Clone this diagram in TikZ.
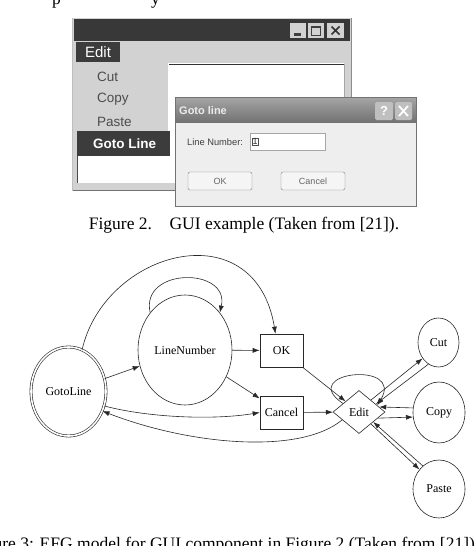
\documentclass[tikz,border=0pt]{standalone}
\usepackage{fontspec}
\setmainfont{Liberation Serif}
\setsansfont{Liberation Sans}
\usetikzlibrary{shapes.geometric,arrows.meta,positioning,calc}
\definecolor{TitleDark}{RGB}{56,56,56}
\definecolor{MenuGray}{RGB}{210,210,210}
\definecolor{MenuDark}{RGB}{60,60,60}
\definecolor{DlgBody}{RGB}{238,238,238}
\definecolor{EdgeInk}{RGB}{40,40,40}
\tikzset{
  cnode/.style={draw=EdgeInk,ellipse,line width=0.6pt,inner sep=0pt,
                font=\fontsize{12}{14}\selectfont},
  bbox/.style={draw=EdgeInk,rectangle,line width=0.6pt,inner sep=0pt,
               minimum width=43pt,minimum height=33pt,
               font=\fontsize{12}{14}\selectfont},
  dbox/.style={draw=EdgeInk,diamond,line width=0.6pt,inner sep=0pt,
               minimum width=52pt,minimum height=43pt,
               font=\fontsize{12}{14}\selectfont},
  arr/.style={-{Latex[length=7pt,width=5pt]},EdgeInk,line width=0.6pt},
  menutext/.style={anchor=west,inner sep=0pt,text=black!70,
                   font=\sffamily\fontsize{13.5}{15}\selectfont},
  btnbox/.style={draw=black!50,fill=white!96!black,rounded corners=2pt},
  btntext/.style={inner sep=0pt,text=black!60,font=\sffamily\fontsize{9}{10}\selectfont},
  captext/.style={inner sep=0pt,font=\fontsize{17.5}{20}\selectfont},
}
\begin{document}
\begin{tikzpicture}[x=1pt,y=-1pt]
  \useasboundingbox (0,0) rectangle (474,546);
  \fill[white] (0,0) rectangle (474,546);

  % cut-off line of text above
  \node[captext,anchor=base west] (topp) at (52,4.5) {p};
  \node[captext,anchor=base west] (topy) at (151,4.5) {y};

  % main window
  \fill[MenuGray] (72,18) rectangle (352,191);
  \fill[TitleDark] (74,19) rectangle (350,41);
  \fill[MenuGray] (290,23) rectangle (306,38);
  \fill[MenuGray] (308,23) rectangle (324,38);
  \fill[MenuGray] (327,23) rectangle (344,38);
  \fill[black!75] (294,32.5) rectangle (301,35.5);
  \draw[black!75,line width=0.8pt] (311.5,26.5) rectangle (320.5,35);
  \draw[black!75,line width=1.6pt] (312,27) -- (320,27);
  \draw[black!80,line width=1.6pt] (331.5,26.5) -- (339.5,34.5) (331.5,34.5) -- (339.5,26.5);
  \fill[MenuDark] (76,42) rectangle (120,62);
  \node[inner sep=0pt,text=white,font=\sffamily\fontsize{15}{17}\selectfont] (medit) at (98,52.5) {Edit};
  \fill[white] (77,63) rectangle (344,183);
  \draw[black!80,line width=1.2pt] (168,64.5) -- (344,64.5);
  \draw[black!35] (344,64) -- (344,183);
  \draw[black!70,line width=1pt] (77.5,156) -- (77.5,183);
  \draw[black!55,line width=1.2pt] (72,190.4) -- (352,190.4);
  \draw[black!45,line width=1pt] (351.5,18) -- (351.5,191);
  \draw[black!25] (72.5,18) -- (72.5,191);
  \fill[MenuGray] (77,63) rectangle (168,131);
  \draw[white] (168,64) -- (168,131);
  \node[menutext] (mcut) at (97,76.5) {Cut};
  \node[menutext] (mcopy) at (97,99) {Copy};
  \node[menutext] (mpaste) at (97,122) {Paste};
  \fill[MenuDark] (77,131) rectangle (170,156);
  \node[menutext,text=white,font=\sffamily\bfseries\fontsize{13.5}{15}\selectfont] (mgoto) at (93,143.5) {Goto Line};

  % dialog
  \fill[DlgBody] (175,97) rectangle (416,206);
  \shade[top color=black!35,bottom color=black!55] (175,97) rectangle (416,122);
  \draw[black!55,line width=1pt] (175,97) rectangle (416,206);
  \node[anchor=west,inner sep=0pt,text=white!92!black,
        font=\sffamily\bfseries\fontsize{11}{13}\selectfont] (dtitle) at (179,110.5) {Goto line};
  \fill[black!25,rounded corners=1.5pt] (375,102) rectangle (393,120);
  \fill[black!25,rounded corners=1.5pt] (395,102) rectangle (412,120);
  \node[inner sep=0pt,text=white,font=\sffamily\bfseries\fontsize{13}{14}\selectfont] (dhelp) at (384,111) {?};
  \draw[white,line width=1.8pt] (399,106) -- (408,116) (399,116) -- (408,106);
  \node[anchor=west,inner sep=0pt,text=black!75,
        font=\sffamily\fontsize{9.3}{11}\selectfont] (dlabel) at (187,142) {Line Number:};
  \fill[white] (250,133) rectangle (325,150);
  \draw[black!35] (250,133) rectangle (325,150);
  \node[draw=black!70,inner sep=0.6pt,text=black!80,font=\sffamily\fontsize{9}{10}\selectfont] (dval) at (255,141.5) {1};
  \draw[btnbox] (188,172) rectangle (252,190);
  \draw[btnbox] (281,172) rectangle (345,190);
  \node[btntext] (dok) at (220,181) {OK};
  \node[btntext] (dcancel) at (313,181) {Cancel};

  \node[captext,anchor=base] (cap2) at (244,229) {Figure 2.\quad GUI example (Taken from [21]).};

  % EFG model
  \node[cnode,double,double distance=1.6pt,minimum width=75pt,minimum height=89pt] (goto) at (68.5,391.5) {GotoLine};
  \node[cnode,minimum width=94pt,minimum height=110pt] (linenum) at (185,350) {LineNumber};
  \node[bbox] (ok) at (281.5,350.5) {OK};
  \node[bbox] (cancel) at (281.5,412.5) {Cancel};
  \node[dbox] (edit) at (359,412) {Edit};
  \node[cnode,minimum width=41pt,minimum height=49pt] (cut) at (438.5,342.5) {Cut};
  \node[cnode,minimum width=52pt,minimum height=61pt] (copy) at (439,412.5) {Copy};
  \node[cnode,minimum width=52pt,minimum height=58pt] (paste) at (439,489) {Paste};

  \draw[arr] (goto.72) .. controls (105,250) and (255,210) .. ([xshift=-6pt]ok.north);
  \draw[arr] (linenum.133) .. controls (140,267) and (230,267) .. (linenum.47);
  \draw[arr] (goto) -- (linenum);
  \draw[arr] (linenum) -- (ok);
  \draw[arr] (linenum) -- (cancel);
  \draw[arr] (goto.-22) .. controls (150,418) and (215,420) .. (cancel.west);
  \draw[arr] (edit.205) .. controls (300,455) and (190,445) .. (goto.-30);
  \draw[arr] (ok) -- (edit);
  \draw[arr] (cancel) -- (edit);
  \draw[arr] (edit.152) .. controls (296,372) and (405,360) .. (edit.20);
  \draw[arr] (edit.45) -- (cut.225);
  \draw[arr] (cut.245) -- (edit.25);
  \draw[arr] (copy.170) -- (edit.14);
  \draw[arr] (edit.-18) -- (copy.190);
  \draw[arr] (edit.-45) -- (paste.135);
  \draw[arr] (paste.125) -- (edit.-35);

  \node[captext,anchor=base west] (cap3) at (-30,549.5) {Figure 3: EFG model for GUI component in Figure 2 (Taken from [21]).};
\end{tikzpicture}
\end{document}
